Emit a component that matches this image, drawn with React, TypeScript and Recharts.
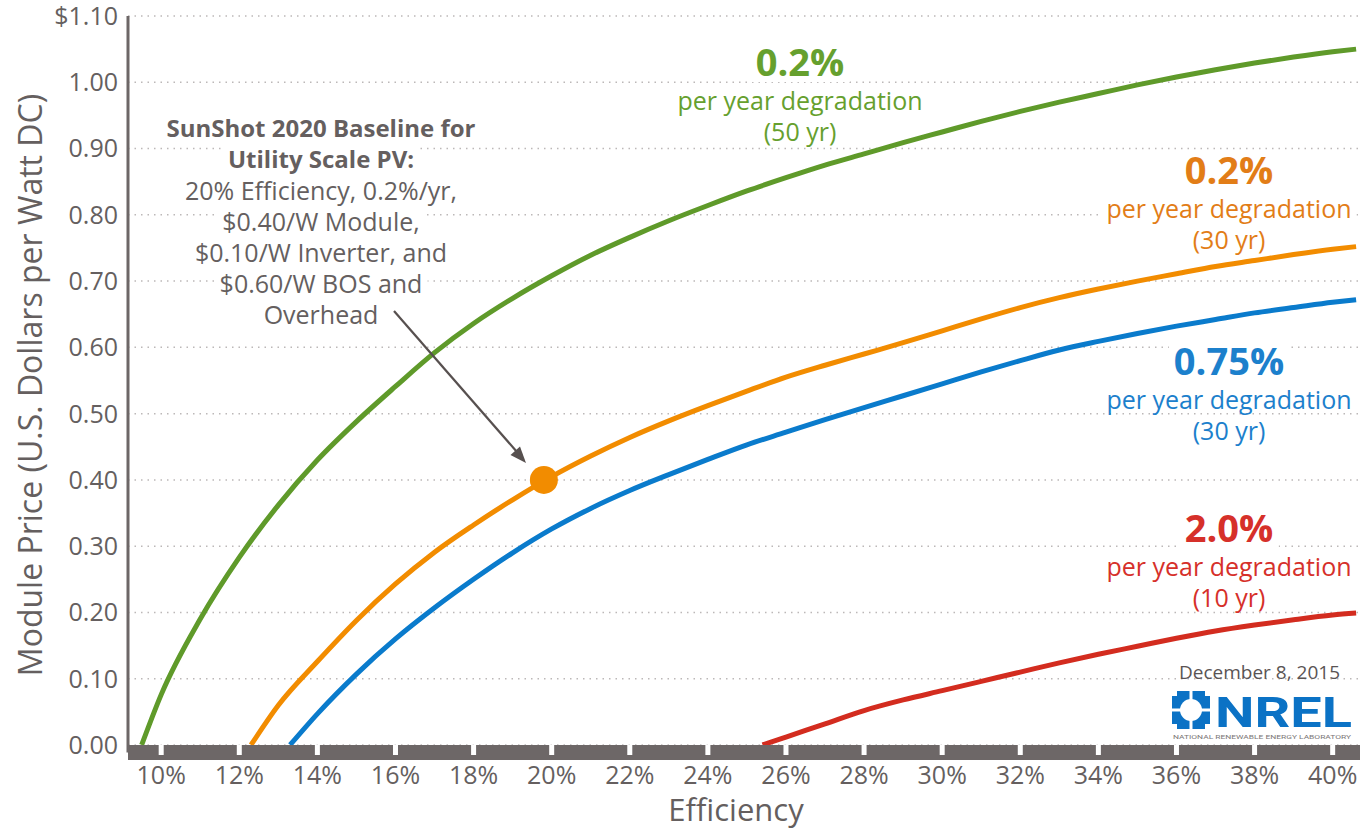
import { LineChart, Line, XAxis, YAxis, CartesianGrid, ReferenceDot } from 'recharts'

// efficiency (%) / module price ($/W DC)
const GREEN_EFF = [9.5, 10, 11, 12, 13, 14, 15, 16, 17, 18, 19, 20, 21, 22, 23, 24, 25, 26, 27, 28, 29, 30, 31, 32, 33, 34, 35, 36, 37, 38, 39, 40, 40.6]
const GREEN_PRICE = [0, 0.076, 0.19, 0.283, 0.362, 0.43, 0.488, 0.541, 0.592, 0.636, 0.674, 0.708, 0.739, 0.766, 0.791, 0.814, 0.836, 0.856, 0.875, 0.892, 0.909, 0.925, 0.941, 0.956, 0.97, 0.983, 0.996, 1.008, 1.019, 1.029, 1.038, 1.046, 1.05]

const ORANGE_EFF = [12.3, 13, 14, 15, 16, 17, 18, 19, 20, 21, 22, 23, 24, 25, 26, 27, 28, 29, 30, 31, 32, 33, 34, 35, 36, 37, 38, 39, 40, 40.6]
const ORANGE_PRICE = [0, 0.06, 0.126, 0.188, 0.243, 0.291, 0.332, 0.37, 0.405, 0.436, 0.464, 0.489, 0.512, 0.534, 0.555, 0.573, 0.59, 0.607, 0.625, 0.643, 0.66, 0.675, 0.688, 0.7, 0.711, 0.722, 0.731, 0.74, 0.748, 0.752]

const BLUE_EFF = [13.3, 14, 15, 16, 17, 18, 19, 20, 21, 22, 23, 24, 25, 26, 27, 28, 29, 30, 31, 32, 33, 34, 35, 36, 37, 38, 39, 40, 40.6]
const BLUE_PRICE = [0, 0.047, 0.107, 0.16, 0.207, 0.25, 0.29, 0.326, 0.357, 0.384, 0.408, 0.431, 0.453, 0.472, 0.491, 0.509, 0.527, 0.545, 0.563, 0.58, 0.596, 0.609, 0.621, 0.632, 0.642, 0.652, 0.66, 0.668, 0.672]

const RED_EFF = [25.4, 26, 27, 28, 29, 30, 31, 32, 33, 34, 35, 36, 37, 38, 39, 40, 40.6]
const RED_PRICE = [0, 0.012, 0.032, 0.052, 0.068, 0.082, 0.096, 0.11, 0.124, 0.137, 0.149, 0.161, 0.172, 0.181, 0.189, 0.196, 0.199]

const BASELINE_EFF = 19.8
const BASELINE_PRICE = 0.4

const X_TICKS = [10, 12, 14, 16, 18, 20, 22, 24, 26, 28, 30, 32, 34, 36, 38, 40]
const Y_TICKS = [0, 0.1, 0.2, 0.3, 0.4, 0.5, 0.6, 0.7, 0.8, 0.9, 1.0, 1.1]

const SUNSHOT_LINES = [
  { text: 'SunShot 2020 Baseline for', bold: true },
  { text: 'Utility Scale PV:', bold: true },
  { text: '20% Efficiency, 0.2%/yr,', bold: false },
  { text: '$0.40/W Module,', bold: false },
  { text: '$0.10/W Inverter, and', bold: false },
  { text: '$0.60/W BOS and', bold: false },
  { text: 'Overhead', bold: false },
]

const toRows = (eff: number[], price: number[]) => eff.map((e, i) => ({ eff: e, price: price[i] }))

const GRAY = '#655f5f'
const AXIS = '#6d6767'
const FONT = '"Open Sans", sans-serif'

function XTick({ x, y, payload }: any) {
  return (
    <g>
      <rect x={x - 2.5} y={y - 8} width={5} height={10.5} fill="#fff" />
      <text x={x} y={y + 31} textAnchor="middle" fontSize={25} fill={GRAY} fontFamily={FONT}>
        {payload.value}%
      </text>
    </g>
  )
}

function Txt({ x, y, size, color, bold, children }: any) {
  return (
    <div
      style={{
        position: 'absolute', left: x, top: y, transform: 'translate(-50%, -50%)',
        fontSize: size, color, fontWeight: bold ? 700 : 400, whiteSpace: 'nowrap',
        lineHeight: 1.05, background: '#fff', padding: '0 5px',
      }}
    >
      {children}
    </div>
  )
}

function SeriesNote({ x, y, color, big, yrs, gap = 38 }: any) {
  return (
    <>
      <Txt x={x} y={y} size={38} color={color} bold>{big}</Txt>
      <Txt x={x} y={y + gap} size={25} color={color}>per year degradation</Txt>
      <Txt x={x} y={y + gap + 31} size={25} color={color}>({yrs} yr)</Txt>
    </>
  )
}

export default function App() {
  return (
    <div style={{ position: 'absolute', left: 0, top: 0, width: 1360, height: 831, background: '#fff', fontFamily: FONT, overflow: 'hidden' }}>
      <LineChart width={1360} height={831} margin={{ top: 16, right: 0, bottom: 0, left: 0 }}>
        <CartesianGrid vertical={false} stroke="#bcb8b8" strokeDasharray="1.5 5" strokeWidth={1.5} />
        <XAxis
          type="number"
          dataKey="eff"
          domain={[9.15, 40.7]}
          ticks={X_TICKS}
          allowDataOverflow
          height={78.5}
          axisLine={{ stroke: AXIS, strokeWidth: 15 }}
          tickLine={false}
          tickSize={0}
          tickMargin={0}
          tick={<XTick />}
          interval={0}
        />
        <YAxis
          type="number"
          domain={[-0.01133, 1.1]}
          ticks={Y_TICKS}
          allowDataOverflow
          width={128}
          axisLine={{ stroke: AXIS, strokeWidth: 3 }}
          tickLine={false}
          tickSize={0}
          tickMargin={10}
          interval={0}
          tick={{ fontSize: 25, fill: GRAY, fontFamily: FONT }}
          tickFormatter={(v: number) => (v > 1.05 ? '$1.10' : v.toFixed(2))}
        />
        <Line data={toRows(GREEN_EFF, GREEN_PRICE)} dataKey="price" type="monotone" stroke="#5f9a2a" strokeWidth={5} dot={false} isAnimationActive={false} />
        <Line data={toRows(ORANGE_EFF, ORANGE_PRICE)} dataKey="price" type="monotone" stroke="#f28c00" strokeWidth={5} dot={false} isAnimationActive={false} />
        <Line data={toRows(BLUE_EFF, BLUE_PRICE)} dataKey="price" type="monotone" stroke="#0a7bcc" strokeWidth={5} dot={false} isAnimationActive={false} />
        <Line data={toRows(RED_EFF, RED_PRICE)} dataKey="price" type="monotone" stroke="#d32c1f" strokeWidth={5} dot={false} isAnimationActive={false} />
        <ReferenceDot x={BASELINE_EFF} y={BASELINE_PRICE} r={14} fill="#f28c00" stroke="none" />
      </LineChart>

      {/* axis titles */}
      <div style={{ position: 'absolute', left: 30, top: 385, transform: 'translate(-50%, -50%) rotate(-90deg)', fontSize: 32, color: GRAY, whiteSpace: 'nowrap', lineHeight: 1.1 }}>
        Module Price (U.S. Dollars per Watt DC)
      </div>
      <div style={{ position: 'absolute', left: 736, top: 809, transform: 'translate(-50%, -50%)', fontSize: 31, color: GRAY, whiteSpace: 'nowrap', lineHeight: 1 }}>
        Efficiency
      </div>

      {/* baseline note */}
      {SUNSHOT_LINES.map((l, i) => (
        <Txt key={i} x={321} y={128 + i * 31} size={l.bold ? 24 : 25} color={GRAY} bold={l.bold}>{l.text}</Txt>
      ))}
      <svg width={1360} height={831} style={{ position: 'absolute', left: 0, top: 0, pointerEvents: 'none' }}>
        <line x1={394} y1={311} x2={517} y2={452} stroke="#57504f" strokeWidth={2.2} />
        <polygon points="526,463 510.5,455 520,446.5" fill="#57504f" />
      </svg>

      <SeriesNote x={800} y={62} color="#66a02e" big="0.2%" yrs={50} />
      <SeriesNote x={1229} y={170} color="#e27d17" big="0.2%" yrs={30} />
      <SeriesNote x={1229} y={361} color="#1c80cc" big="0.75%" yrs={30} />
      <SeriesNote x={1229} y={528} color="#d6302a" big="2.0%" yrs={10} />

      {/* date + NREL mark */}
      <div style={{ position: 'absolute', right: 20, top: 662, fontSize: 19, color: '#5a5454', whiteSpace: 'nowrap', lineHeight: 1.1 }}>
        December 8, 2015
      </div>
      <svg width={190} height={60} style={{ position: 'absolute', left: 1170, top: 682 }}>
        <rect x={2} y={9} width={38} height={38} fill="#0b72c5" />
        <circle cx={21} cy={28} r={11} fill="#fff" />
        <rect x={19.5} y={9} width={3} height={38} fill="#fff" />
        <rect x={2} y={26.5} width={38} height={3} fill="#fff" />
        <rect x={2} y={9} width={5} height={5} fill="#fff" />
        <rect x={35} y={9} width={5} height={5} fill="#fff" />
        <rect x={2} y={42} width={5} height={5} fill="#fff" />
        <rect x={35} y={42} width={5} height={5} fill="#fff" />
        <text x={45} y={45} fontSize={42} fontWeight={700} fill="#0b72c5" fontFamily="Roboto, sans-serif" textLength={137} lengthAdjust="spacingAndGlyphs">
          NREL
        </text>
        <text x={3} y={57} fontSize={5.5} fill="#7a7575" fontFamily="Roboto, sans-serif" textLength={178} lengthAdjust="spacingAndGlyphs">
          NATIONAL RENEWABLE ENERGY LABORATORY
        </text>
      </svg>
    </div>
  )
}
